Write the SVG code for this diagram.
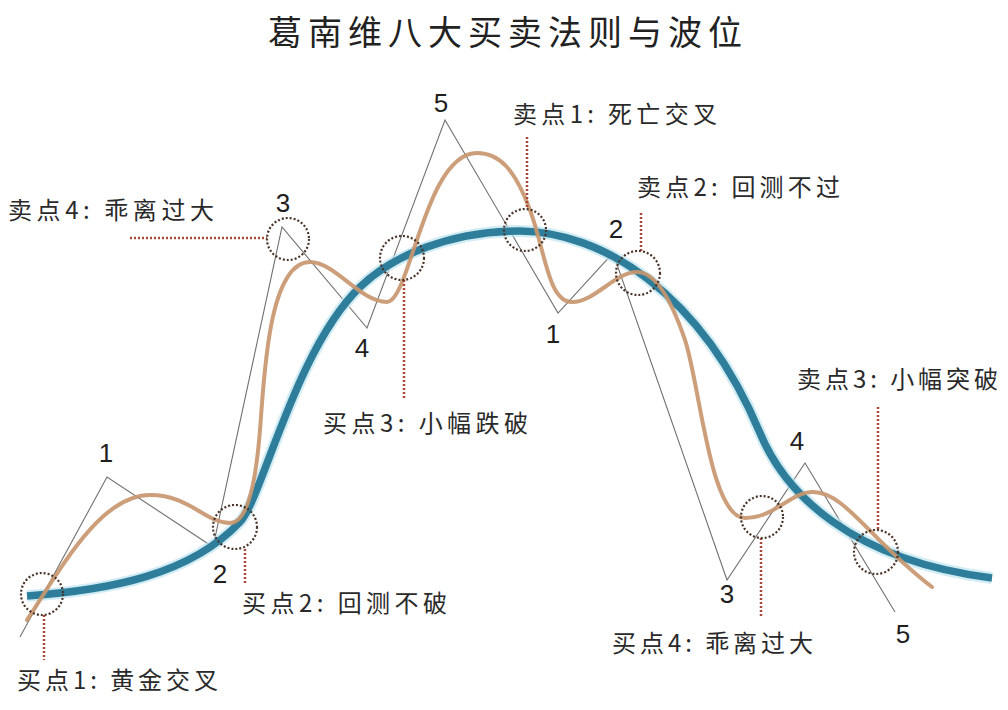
<svg xmlns="http://www.w3.org/2000/svg" width="1008" height="710" viewBox="0 0 1008 710">
<style>
.lbl{font-family:"Noto Sans CJK SC","Liberation Serif",serif;font-size:24px;fill:#2a2a2a}
.num{font-family:"Liberation Sans",Arial,sans-serif;font-size:26px;fill:#1e1e1e;text-anchor:middle}
.ring{fill:none;stroke:#4a3428;stroke-width:2.2;stroke-dasharray:2 2}
.lead{fill:none;stroke:#a8473a;stroke-width:2.5;stroke-dasharray:2 2}
.wave{fill:none;stroke:#707070;stroke-width:1.1;stroke-linejoin:miter}
</style>
<rect width="1008" height="710" fill="#ffffff"/>
<text x="268" y="45" font-family="Noto Sans CJK SC, Liberation Serif, serif" font-size="34" fill="#222" textLength="474" lengthAdjust="spacing">葛南维八大买卖法则与波位</text>
<g id="connectors">
<polyline class="wave" points="20,637 107,477 213,547 282,227 367,328 445,120 558,313 613,253 727,580 805,463 895,612"/>
<path id="ma-halo" d="M27,596 C110,590 190,575 240,522 C262,499 295,350 360,287 C392,256 450,231 520,231 C600,232 700,290 760,433 C785,493 850,560 992,578" fill="none" stroke="#bfe4f0" stroke-width="12" stroke-linecap="butt" opacity="0.7"/>
<path id="ma-long" d="M27,596 C110,590 190,575 240,522 C262,499 295,350 360,287 C392,256 450,231 520,231 C600,232 700,290 760,433 C785,493 850,560 992,578" fill="none" stroke="#2e7d9a" stroke-width="7.5" stroke-linecap="butt"/>
<path id="price" d="M27,620 C60,570 100,495 150,495 C190,495 205,523 230,523 C248,523 256,480 260,430 C264,380 268,262 310,262 C335,262 360,302 387,302 C410,302 425,153 477,153 C500,153 515,170 530,210 C545,250 548,302 572,302 C595,302 615,272 637,272 C652,272 668,290 685,340 C700,385 710,518 745,518 C775,518 790,492 813,492 C845,492 870,540 932,587" fill="none" stroke="#c8966f" stroke-width="4" stroke-linecap="round" opacity="0.92"/>
<line class="lead" x1="44" y1="615" x2="44" y2="660"/>
<line class="lead" x1="245" y1="549" x2="245" y2="583"/>
<line class="lead" x1="130" y1="238" x2="267" y2="238"/>
<line class="lead" x1="404" y1="280" x2="404" y2="398"/>
<line class="lead" x1="527" y1="137" x2="527" y2="209"/>
<line class="lead" x1="641" y1="213" x2="641" y2="251"/>
<line class="lead" x1="761" y1="538" x2="761" y2="617"/>
<line class="lead" x1="878" y1="407" x2="878" y2="530"/>
</g>
<g id="buy1"><circle class="ring" cx="42" cy="594" r="21"/><text class="lbl" x="17" y="689" textLength="201" lengthAdjust="spacing">买点1: 黄金交叉</text></g>
<g id="buy2"><circle class="ring" cx="235" cy="527" r="22"/><text class="lbl" x="242" y="612" textLength="205" lengthAdjust="spacing">买点2: 回测不破</text></g>
<g id="sell4"><circle class="ring" cx="288" cy="239" r="21"/><text class="lbl" x="8" y="219" textLength="206" lengthAdjust="spacing">卖点4: 乖离过大</text></g>
<g id="buy3"><circle class="ring" cx="402" cy="258" r="22"/><text class="lbl" x="323" y="432" textLength="205" lengthAdjust="spacing">买点3: 小幅跌破</text></g>
<g id="sell1"><circle class="ring" cx="525" cy="230" r="21"/><text class="lbl" x="513" y="123" textLength="204" lengthAdjust="spacing">卖点1: 死亡交叉</text></g>
<g id="sell2"><circle class="ring" cx="638" cy="273" r="22"/><text class="lbl" x="637" y="196" textLength="203" lengthAdjust="spacing">卖点2: 回测不过</text></g>
<g id="sell3"><circle class="ring" cx="876" cy="552" r="22"/><text class="lbl" x="797" y="388" textLength="201" lengthAdjust="spacing">卖点3: 小幅突破</text></g>
<g id="buy4"><circle class="ring" cx="762" cy="517" r="21"/><text class="lbl" x="612" y="652" textLength="201" lengthAdjust="spacing">买点4: 乖离过大</text></g>
<g id="wave-labels">
<text class="num" x="106" y="462">1</text>
<text class="num" x="220" y="583">2</text>
<text class="num" x="283" y="212">3</text>
<text class="num" x="362" y="357">4</text>
<text class="num" x="441" y="112">5</text>
<text class="num" x="553" y="343">1</text>
<text class="num" x="616" y="238">2</text>
<text class="num" x="727" y="603">3</text>
<text class="num" x="797" y="450">4</text>
<text class="num" x="903" y="643">5</text>
</g>
</svg>
